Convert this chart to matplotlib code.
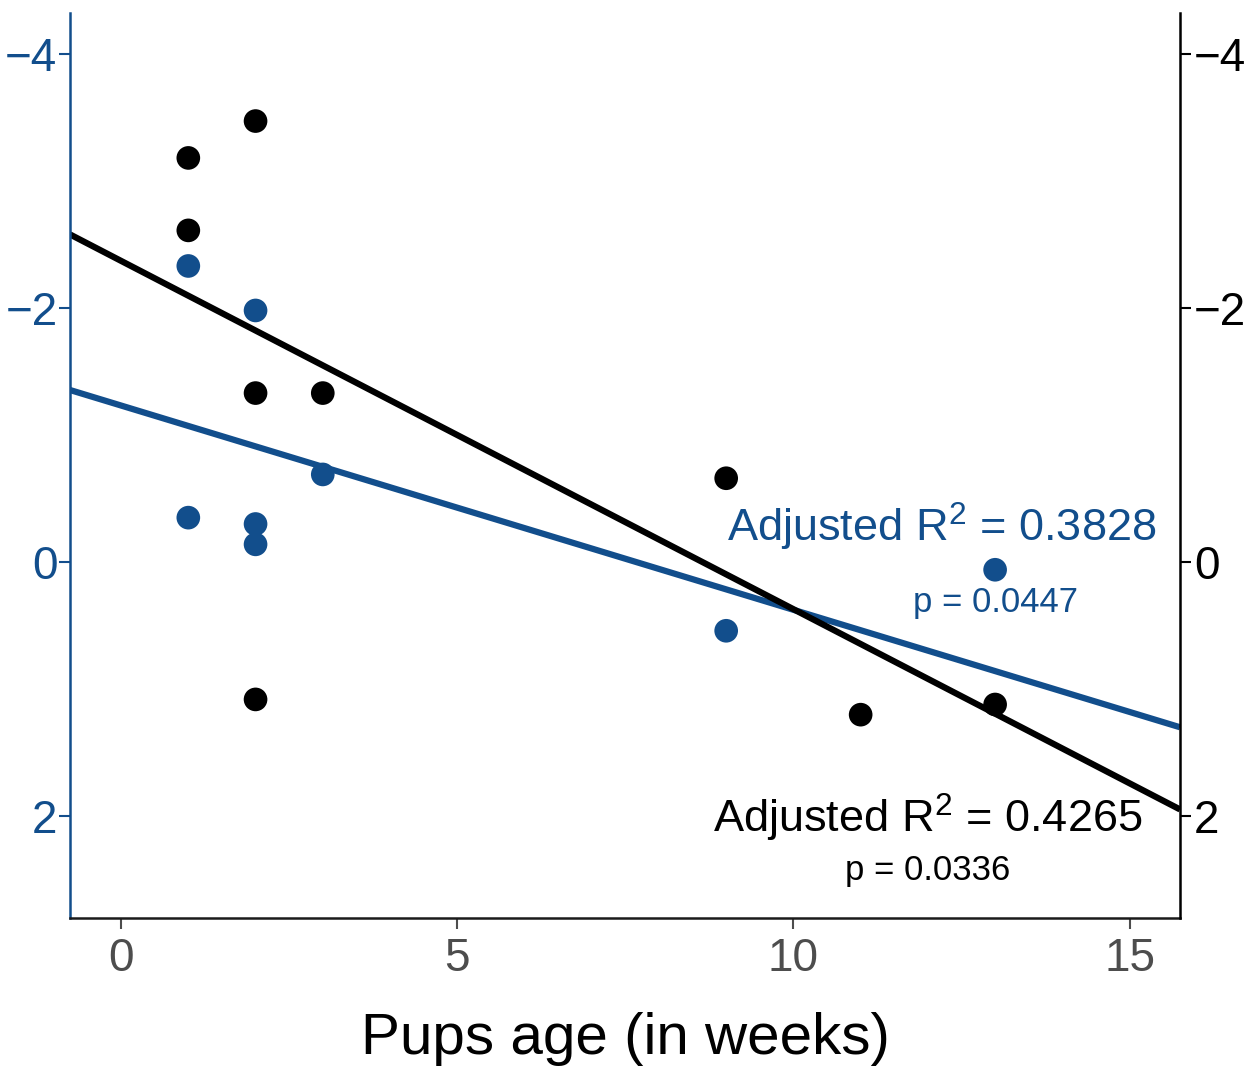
import matplotlib
matplotlib.use("Agg")
import matplotlib.pyplot as plt
import numpy as np

plt.rcParams["font.family"] = ["Liberation Sans", "DejaVu Sans"]
plt.rcParams["mathtext.fontset"] = "custom"
plt.rcParams["mathtext.rm"] = "Liberation Sans"
plt.rcParams["mathtext.it"] = "Liberation Sans"

BLUE = "#124E8C"
BLACK = "#000000"

# black series (right axis)
black_age = [1, 2, 1, 2, 3, 2, 9, 11, 13]
black_val = [-3.18, -3.47, -2.61, -1.33, -1.33, 1.08, -0.66, 1.20, 1.12]

# blue series (left axis)
blue_age = [1, 2, 3, 1, 2, 2, 9, 13]
blue_val = [-2.33, -1.98, -0.69, -0.35, -0.30, -0.14, 0.54, 0.06]

# regression lines as shown (intercept, slope)
black_fit = (-2.37, 0.274)
blue_fit = (-1.232, 0.1607)

black_label = ("Adjusted R$^{2}$ = 0.4265", "p = 0.0336")
blue_label = ("Adjusted R$^{2}$ = 0.3828", "p = 0.0447")

x_ticks = [0, 5, 10, 15]
y_ticks = [-4, -2, 0, 2]
xlim = (-0.76, 15.75)
ylim = (2.80, -4.32)

fig = plt.figure(figsize=(12.52, 10.67), dpi=100)
ax = fig.add_axes([0.0559, 0.1396, 0.8866, 0.8482])
ax2 = ax.twinx()

xs = np.array(xlim)
ax.plot(xs, blue_fit[0] + blue_fit[1] * xs, color=BLUE, lw=4.5, solid_capstyle="butt", zorder=2)
ax.plot(xs, black_fit[0] + black_fit[1] * xs, color=BLACK, lw=4.5, solid_capstyle="butt", zorder=2)
ax.scatter(blue_age, blue_val, s=290, color=BLUE, edgecolors="none", zorder=3)
ax.scatter(black_age, black_val, s=290, color=BLACK, edgecolors="none", zorder=3)

ax.text(12.2, -0.157, blue_label[0], color=BLUE, fontsize=32.5, ha="center", va="baseline")
ax.text(13.0, 0.394, blue_label[1], color=BLUE, fontsize=25, ha="center", va="baseline")
ax.text(12.0, 2.13, black_label[0], color=BLACK, fontsize=32.5, ha="center", va="baseline")
ax.text(12.0, 2.50, black_label[1], color=BLACK, fontsize=25, ha="center", va="baseline")

for a in (ax, ax2):
    a.set_xlim(*xlim)
    a.set_ylim(*ylim)
    a.set_yticks(y_ticks)
    a.spines["top"].set_visible(False)

ax.set_xticks(x_ticks)
ax.tick_params(axis="x", colors="#4D4D4D", labelsize=33, length=8, width=1.5, pad=6)
ax.tick_params(axis="y", colors=BLUE, labelsize=33, length=8, width=1.5, pad=1)
ax2.tick_params(axis="y", colors=BLACK, labelsize=33, length=8, width=1.5, pad=2)

ax.spines["left"].set_color(BLUE)
ax.spines["left"].set_linewidth(1.8)
ax.spines["right"].set_visible(False)
ax.spines["bottom"].set_color("#1A1A1A")
ax.spines["bottom"].set_linewidth(1.8)
ax2.spines["left"].set_visible(False)
ax2.spines["bottom"].set_visible(False)
ax2.spines["right"].set_color(BLACK)
ax2.spines["right"].set_linewidth(1.8)

ax.set_xlabel("Pups age (in weeks)", fontsize=42, labelpad=22)

fig.savefig("out.png", dpi=100)
